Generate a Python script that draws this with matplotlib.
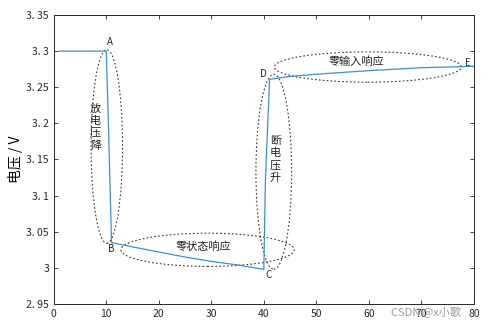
import matplotlib
matplotlib.use("Agg")
import matplotlib.pyplot as plt
from matplotlib.patches import Ellipse

plt.rcParams['font.family'] = ['Noto Sans CJK SC', 'DejaVu Sans']

# data
t = [1, 10, 10.4, 11, 15, 20, 25, 30, 35, 40, 40.3, 41.1, 45, 50, 60, 70, 80]
v = [3.300, 3.300, 3.200, 3.035, 3.029, 3.022, 3.015, 3.009, 3.004, 2.998,
     3.120, 3.261, 3.265, 3.268, 3.273, 3.277, 3.279]

xticks = [0, 10, 20, 30, 40, 50, 60, 70, 80]
yticks = [2.95, 3.0, 3.05, 3.1, 3.15, 3.2, 3.25, 3.3, 3.35]
ytick_labels = ["2. 95", "3", "3. 05", "3. 1", "3. 15", "3. 2", "3. 25", "3. 3", "3. 35"]

point_labels = ["A", "B", "C", "D", "E"]
point_x = [10.6, 10.9, 40.8, 39.9, 78.8]
point_y = [3.312, 3.026, 2.990, 3.269, 3.283]

ellipses = [  # (cx, cy, w, h, text, tx, ty)
    (10.1, 3.168, 6.0, 0.268, "放\n电\n压\n降", 7.9, 3.195),
    (29.3, 3.025, 33.0, 0.046, "零状态响应", 28.4, 3.030),
    (41.9, 3.133, 6.8, 0.270, "断\n电\n压\n升", 42.2, 3.150),
    (59.8, 3.278, 35.6, 0.042, "零输入响应", 57.6, 3.286),
]

fig = plt.figure(figsize=(4.89, 3.26), dpi=100)
ax = fig.add_axes([0.110, 0.0675, 0.859, 0.8865])

ax.plot(t, v, color='#3a8fd4', lw=0.9)

for (cx, cy, w, h, txt, tx, ty) in ellipses:
    ax.add_patch(Ellipse((cx, cy), w, h, fill=False, ls=(0, (1.5, 2)),
                         lw=0.8, ec='#333333'))
    ax.text(tx, ty, txt, ha='center', va='center', fontsize=8,
            linespacing=1.25, color='#222222')

for lab, px, py in zip(point_labels, point_x, point_y):
    ax.text(px, py, lab, ha='center', va='center', fontsize=7, color='#222222')

ax.set_xlim(0, 80)
ax.set_ylim(2.95, 3.35)
ax.set_xticks(xticks)
ax.set_yticks(yticks)
ax.set_yticklabels(ytick_labels)
ax.tick_params(direction='in', top=True, right=True, labelsize=7.5,
               colors='#262626', length=3, width=0.6)
for s in ax.spines.values():
    s.set_color('#262626')
    s.set_linewidth(0.7)

ax.set_ylabel("电压 / V", fontsize=10, labelpad=2)

fig.text(0.80, 0.025, "CSDN @x小歌", fontsize=8, color='#999999', ha='left', va='bottom')

fig.savefig("out.png", dpi=100)
